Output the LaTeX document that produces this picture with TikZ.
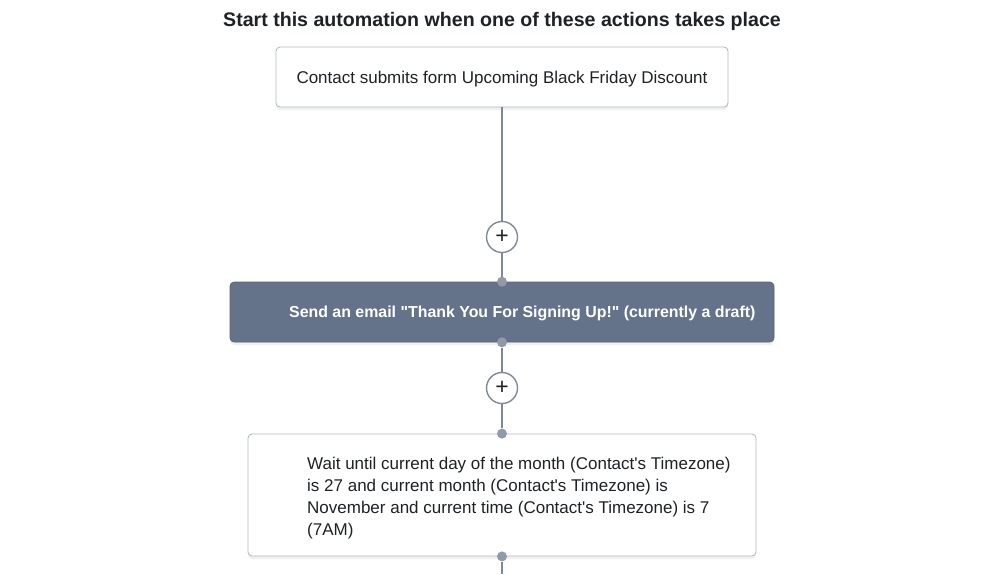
\documentclass[tikz,border=0pt]{standalone}
\usepackage{fontspec}
\setmainfont{Liberation Sans}[Ligatures=TeXOff]
\usetikzlibrary{shadows}

\definecolor{slate}{HTML}{647389}
\definecolor{edgegray}{HTML}{AEB6C1}
\definecolor{wire}{HTML}{7D8899}
\definecolor{ink}{HTML}{1E2226}

\tikzset{
  stepbox/.style={draw=edgegray, line width=0.8pt, rounded corners=4pt, fill=white,
    drop shadow={opacity=0.12, shadow xshift=0pt, shadow yshift=-3pt}},
  actionbox/.style={draw=slate!85!black, line width=0.6pt, rounded corners=4pt, fill=slate,
    drop shadow={opacity=0.12, shadow xshift=0pt, shadow yshift=-3pt}},
  plusbtn/.style={circle, draw=wire, line width=1.4pt, fill=white, minimum size=31pt, inner sep=0pt,
    font=\fontsize{23}{23}\selectfont, text=ink},
  joint/.style={circle, fill=wire!85, minimum size=10pt, inner sep=0pt},
  link/.style={wire, line width=1.6pt},
  boxtext/.style={font=\fontsize{17}{22}\selectfont, text=ink, inner sep=0pt}
}

\begin{document}
\begin{tikzpicture}[x=1pt, y=-1pt]
    \useasboundingbox (0, 0) rectangle (1000, 574);

    % heading
    \node[font=\fontsize{19.6}{22}\selectfont\bfseries, text=ink] (title) at (502, 21)
      {Start this automation when one of these actions takes place};

    % trigger
    \node[stepbox, minimum width=452pt, minimum height=60pt, boxtext, text height=12.5pt, text depth=0pt]
      (trigger) at (502, 77) {Contact submits form Upcoming Black Friday Discount};

    % send email step
    \node[actionbox, minimum width=544pt, minimum height=60pt] (send) at (502, 312) {};
    \node[boxtext, anchor=west, text=white, font=\fontsize{15.9}{22}\selectfont\bfseries] (sendtext) at (289, 313)
      {Send an email "Thank You For Signing Up!" (currently a draft)};

    % wait step
    \node[stepbox, minimum width=508pt, minimum height=122pt] (wait) at (502, 495) {};
    \node[boxtext, anchor=north west, align=left] (waittext) at (307, 457)
      {Wait until current day of the month (Contact's Timezone)\\
       is 27 and current month (Contact's Timezone) is\\
       November and current time (Contact's Timezone) is 7\\
       (7AM)};

    % plus buttons
    \node[plusbtn] (plus1) at (502, 237) {+};
    \node[plusbtn] (plus2) at (502, 388) {+};

    % joints
    \node[joint] (sendin) at (send.north) {};
    \node[joint] (sendout) at (send.south) {};
    \node[joint] (waitin) at (wait.north) {};
    \node[joint] (waitout) at (wait.south) {};
    \coordinate (tail) at (502, 574);

    % connectors
    \draw[link] (trigger.south) -- (plus1);
    \draw[link] (plus1) -- (sendin);
    \draw[link] (sendout) -- (plus2);
    \draw[link] (plus2) -- (waitin);
    \draw[link] (waitout) -- (tail);
\end{tikzpicture}
\end{document}
